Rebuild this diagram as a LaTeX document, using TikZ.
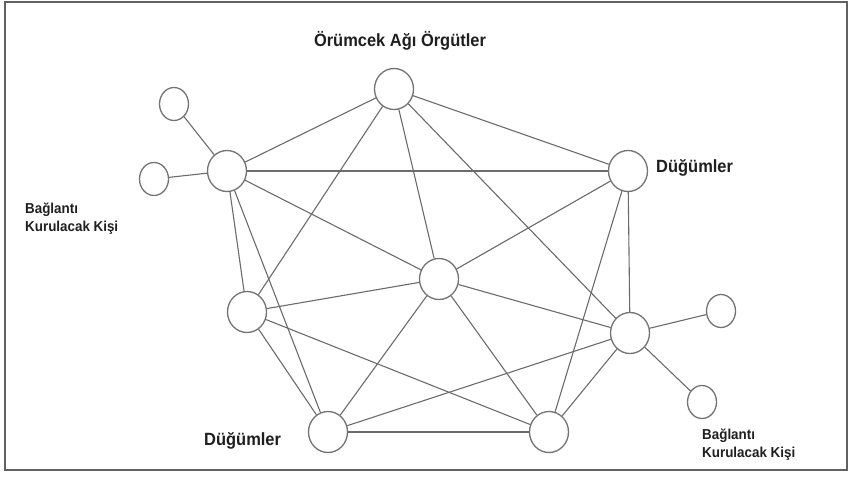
\documentclass[tikz,border=0pt]{standalone}
\usepackage{fontspec}
\setmainfont{Liberation Sans}
\newfontfamily\lblfont[FakeStretch=0.93]{Liberation Sans}
\usetikzlibrary{shapes.geometric}
\begin{document}
\begin{tikzpicture}[x=1pt,y=-1pt,
  hub/.style={ellipse, draw=black!55, line width=1.3pt, fill=white, minimum width=39pt, minimum height=41pt, inner sep=0pt},
  leaf/.style={ellipse, draw=black!55, line width=1.3pt, fill=white, minimum width=29pt, minimum height=33pt, inner sep=0pt},
  link/.style={draw=black!58, line width=1.1pt},
  big/.style={font=\lblfont\bfseries\fontsize{17.7}{20}\selectfont, text=black!88, inner sep=0pt},
  small/.style={font=\lblfont\bfseries\fontsize{14.4}{18}\selectfont, inner sep=0pt, text=black!88},
  frame/.style={draw=black!62, line width=2pt}]
\useasboundingbox (0,0) rectangle (850,479);
\draw[frame] (5,2) rectangle (847,470);

\node[hub] (T) at (394,89) {};
\node[hub] (UL) at (227,171) {};
\node[hub] (UR) at (628,171) {};
\node[hub] (C) at (439,279) {};
\node[hub] (L) at (247,312) {};
\node[hub] (R) at (630,333) {};
\node[hub] (BL) at (328,432) {};
\node[hub] (BR) at (549,432) {};
\node[leaf] (S1) at (174,104) {};
\node[leaf] (S2) at (154,179) {};
\node[leaf] (S3) at (721,311) {};
\node[leaf] (S4) at (702,402) {};

\draw[link] (T) -- (UL);
\draw[link] (T) -- (UR);
\draw[link] (T) -- (C);
\draw[link] (T) -- (L);
\draw[link] (T) -- (R);
\draw[link] (UL) -- (UR);
\draw[link] (UL) -- (C);
\draw[link] (UL) -- (L);
\draw[link] (UL) -- (BL);
\draw[link] (UL) -- (S1);
\draw[link] (UL) -- (S2);
\draw[link] (UR) -- (C);
\draw[link] (UR) -- (R);
\draw[link] (UR) -- (BR);
\draw[link] (C) -- (L);
\draw[link] (C) -- (R);
\draw[link] (C) -- (BL);
\draw[link] (C) -- (BR);
\draw[link] (L) -- (BL);
\draw[link] (L) -- (BR);
\draw[link] (R) -- (BL);
\draw[link] (R) -- (BR);
\draw[link] (R) -- (S3);
\draw[link] (R) -- (S4);
\draw[link] (BL) -- (BR);

\node[big, anchor=base] (title) at (400,46) {Örümcek Ağı Örgütler};
\node[big, anchor=base west] (d1) at (656,172) {Düğümler};
\node[big, anchor=base west] (d2) at (204,445) {Düğümler};
\node[small, anchor=base west] (b1) at (25,213) {Bağlantı};
\node[small, anchor=base west] (k1) at (25,231) {Kurulacak Kişi};
\node[small, anchor=base west] (b2) at (702,439) {Bağlantı};
\node[small, anchor=base west] (k2) at (702,457) {Kurulacak Kişi};
\end{tikzpicture}
\end{document}
